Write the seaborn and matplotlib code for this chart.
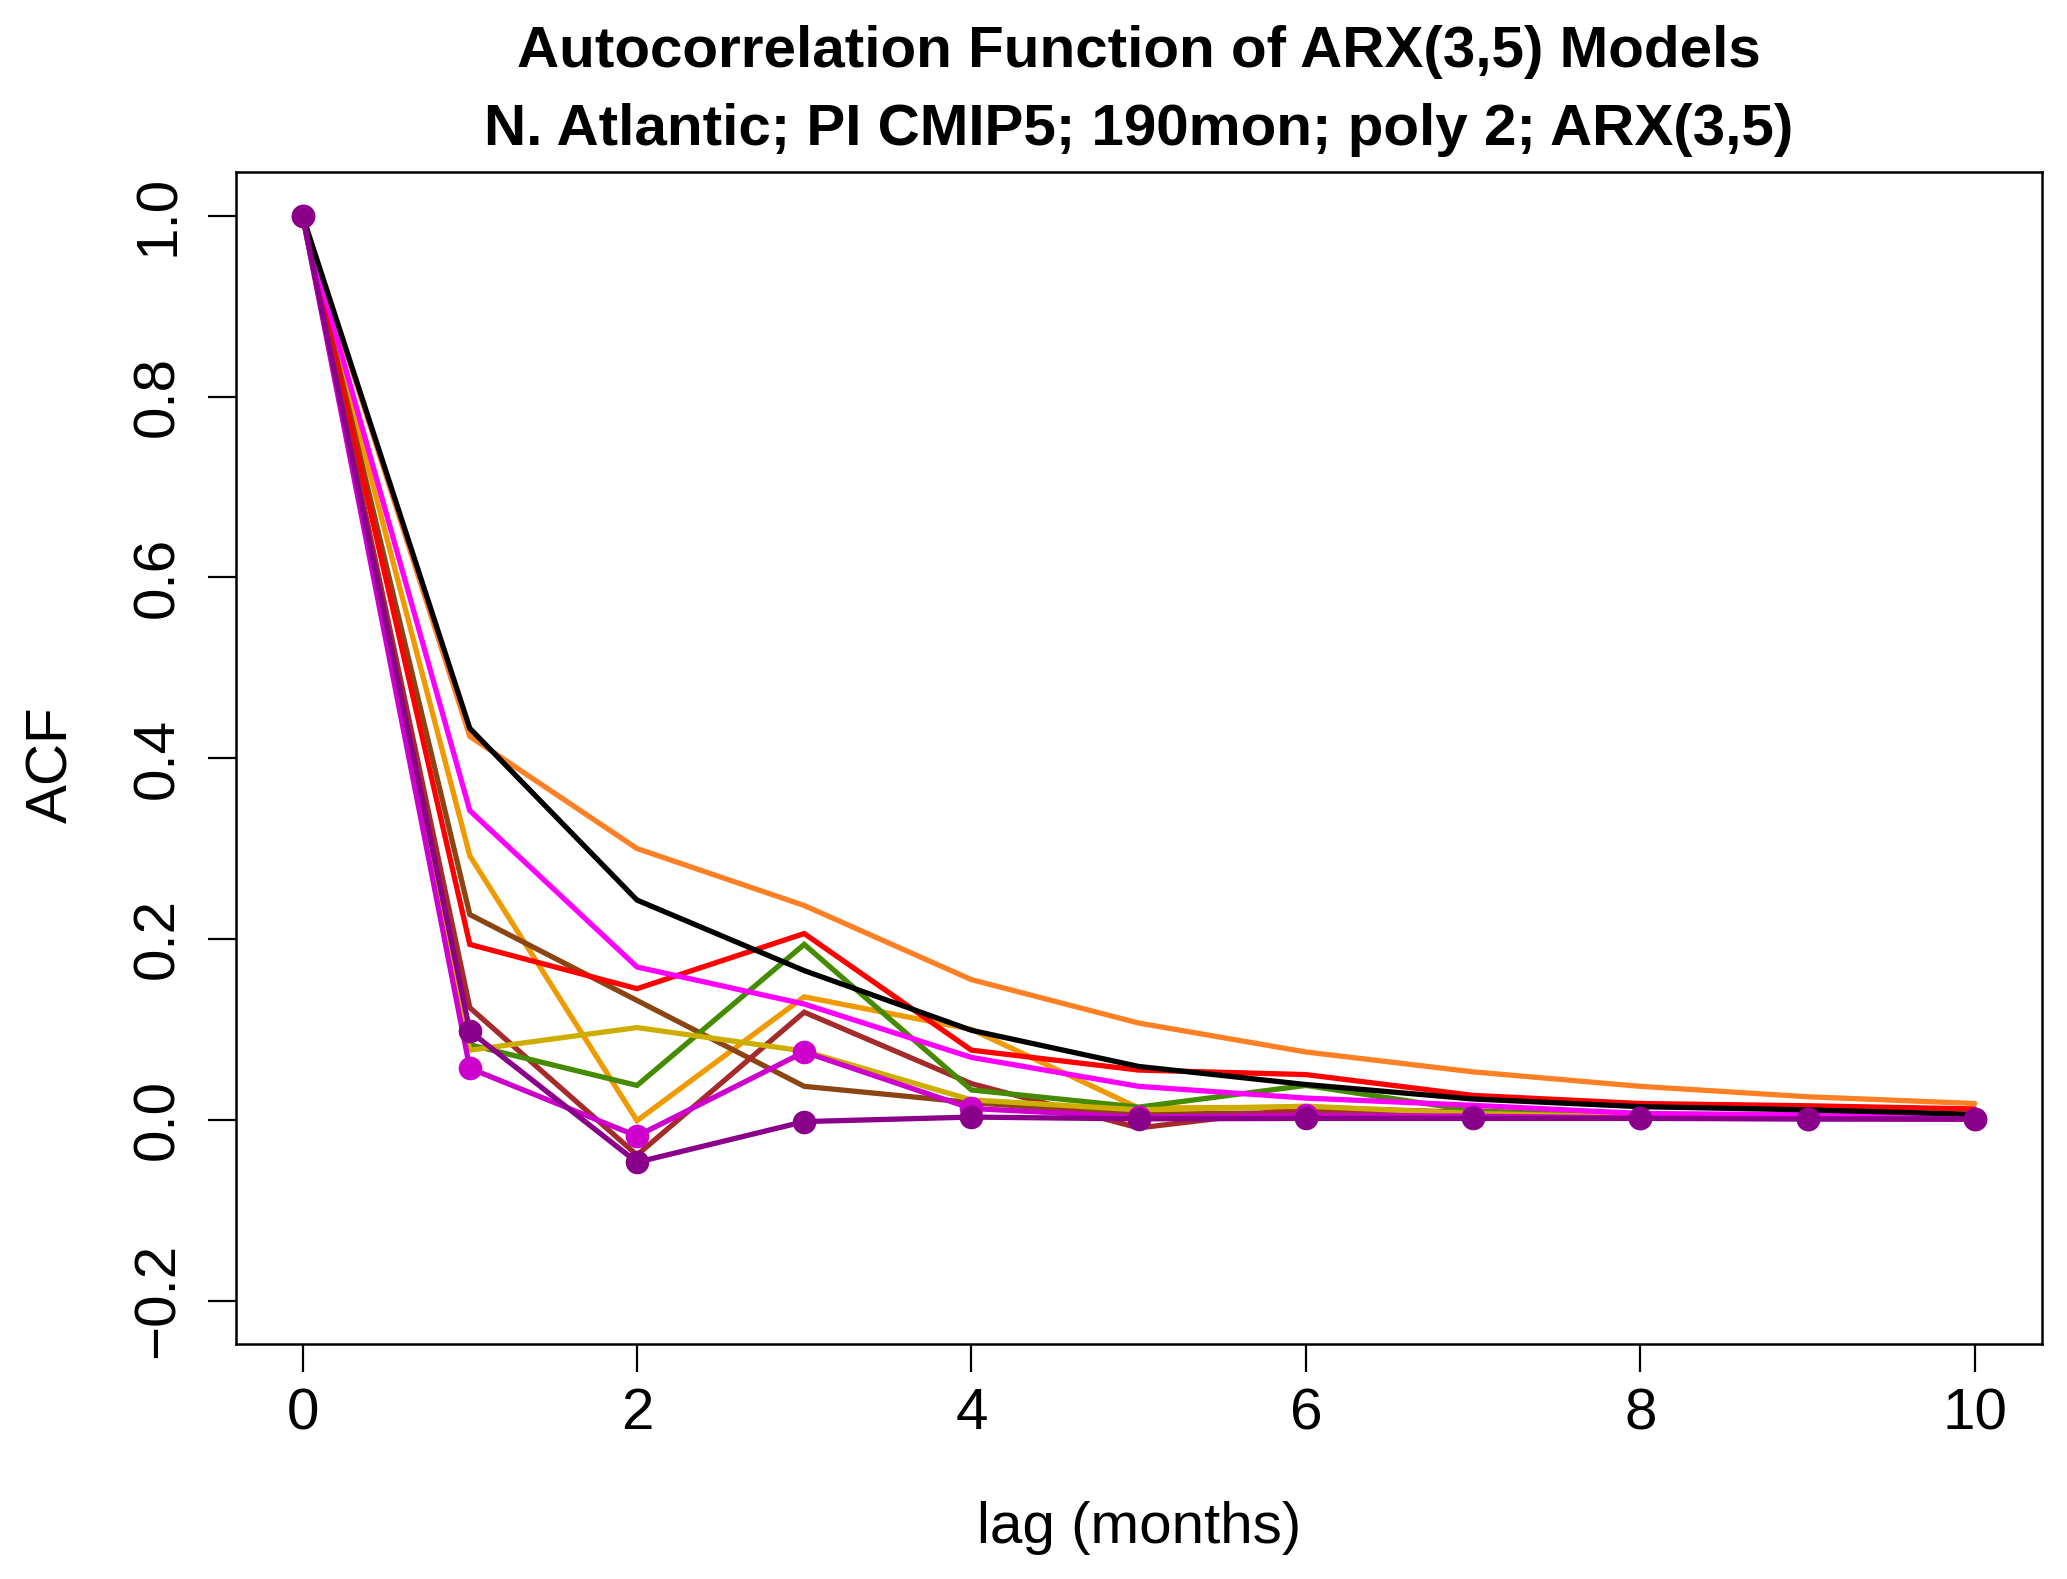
import matplotlib
matplotlib.use("Agg")
import matplotlib.pyplot as plt
import seaborn as sns
import pandas as pd

# ---------------- data ----------------
lags = [0, 1, 2, 3, 4, 5, 6, 7, 8, 9, 10]

acf_black       = [1.0, 0.433, 0.243, 0.165, 0.099, 0.059, 0.039, 0.023, 0.0145, 0.011, 0.006]
acf_chocolate   = [1.0, 0.424, 0.300, 0.237, 0.155, 0.107, 0.075, 0.053, 0.037, 0.0255, 0.018]
acf_magenta     = [1.0, 0.342, 0.169, 0.128, 0.069, 0.037, 0.024, 0.016, 0.007, 0.0055, 0.0033]
acf_orange      = [1.0, 0.292, -0.001, 0.136, 0.100, 0.013, 0.014, 0.008, 0.004, 0.002, 0.001]
acf_saddlebrown = [1.0, 0.227, 0.132, 0.037, 0.019, 0.006, 0.008, 0.006, 0.003, 0.002, 0.001]
acf_red         = [1.0, 0.194, 0.145, 0.206, 0.077, 0.055, 0.050, 0.027, 0.018, 0.0155, 0.012]
acf_brown       = [1.0, 0.124, -0.039, 0.119, 0.040, -0.009, 0.013, 0.008, 0.004, 0.002, 0.001]
acf_green       = [1.0, 0.083, 0.038, 0.194, 0.033, 0.014, 0.038, 0.010, 0.003, 0.002, 0.001]
acf_gold        = [1.0, 0.077, 0.102, 0.076, 0.022, 0.011, 0.015, 0.007, 0.003, 0.002, 0.001]
acf_magenta3    = [1.0, 0.057, -0.018, 0.075, 0.0125, 0.003, 0.005, 0.004, 0.002, 0.001, 0.0005]
acf_darkmagenta = [1.0, 0.098, -0.047, -0.002, 0.003, 0.001, 0.0015, 0.0015, 0.0015, 0.001, 0.001]

series_names = ["chocolate", "orange", "saddlebrown", "red", "brown", "green",
                "gold", "magenta", "black", "magenta3", "darkmagenta"]
series_values = [acf_chocolate, acf_orange, acf_saddlebrown, acf_red, acf_brown, acf_green,
                 acf_gold, acf_magenta, acf_black, acf_magenta3, acf_darkmagenta]
series_colors = ["#FF7F24", "#EE9A00", "#8B4513", "#FF0000", "#A52A2A", "#458B00",
                 "#CDAD00", "#FF00FF", "#000000", "#CD00CD", "#8B008B"]
series_markers = [False, False, False, False, False, False,
                  False, False, False, True, True]

xticks = [0, 2, 4, 6, 8, 10]
yticks = [-0.2, 0.0, 0.2, 0.4, 0.6, 0.8, 1.0]
ytick_labels = ["\u22120.2", "0.0", "0.2", "0.4", "0.6", "0.8", "1.0"]

title_line1 = "Autocorrelation Function of ARX(3,5) Models"
title_line2 = "N. Atlantic; PI CMIP5; 190mon; poly 2; ARX(3,5)"
xlabel = "lag (months)"
ylabel = "ACF"

# ---------------- plot ----------------
sns.set_style("white")
plt.rcParams["font.family"] = ["Liberation Sans", "DejaVu Sans"]
plt.rcParams["text.color"] = "black"
plt.rcParams["axes.labelcolor"] = "black"

W, H = 2067, 1579
dpi = 100
fig = plt.figure(figsize=(W / dpi, H / dpi), dpi=dpi)
ax_left, ax_right = 235.7 / W, 2041.6 / W
ax_bottom, ax_top = 1 - 1344.0 / H, 1 - 172.3 / H
ax = fig.add_axes([ax_left, ax_bottom, ax_right - ax_left, ax_top - ax_bottom])

for name, vals, col, mk in zip(series_names, series_values, series_colors, series_markers):
    df = pd.DataFrame({"lag": lags, "acf": vals})
    kw = dict(marker="o", markersize=17, markeredgewidth=0) if mk else {}
    sns.lineplot(data=df, x="lag", y="acf", color=col, linewidth=3.8, ax=ax,
                 solid_joinstyle="miter", **kw)

ax.set_xlim(-0.4, 10.4)
ax.set_ylim(-0.248, 1.048)
ax.set_xticks(xticks)
ax.set_xticklabels([str(t) for t in xticks])
ax.set_yticks(yticks)
ax.set_yticklabels(ytick_labels)

for s in ax.spines.values():
    s.set_visible(True)
    s.set_linewidth(1.8)
    s.set_color("black")

ax.tick_params(axis="both", direction="out", length=20, width=1.6, colors="black",
               labelsize=42, left=True, bottom=True)
ax.tick_params(axis="x", pad=11)
ax.tick_params(axis="y", pad=16, labelrotation=90)
for lab in ax.get_yticklabels():
    lab.set_verticalalignment("center")

ax.set_xlabel(xlabel, fontsize=42, color="black")
ax.xaxis.label.set_verticalalignment("baseline")
ax.xaxis.set_label_coords(0.5, -0.1698)
ax.set_ylabel(ylabel, fontsize=42, color="black")
ax.yaxis.label.set_verticalalignment("baseline")
ax.yaxis.set_label_coords(-0.0934, 0.494)

cx = (ax_left + ax_right) / 2
fig.text(cx, 1 - 66.7 / H, title_line1, ha="center", va="baseline",
         fontsize=42, fontweight="bold", color="black")
fig.text(cx, 1 - 145.0 / H, title_line2, ha="center", va="baseline",
         fontsize=42, fontweight="bold", color="black")

fig.savefig("out.png", dpi=dpi, facecolor="white")
